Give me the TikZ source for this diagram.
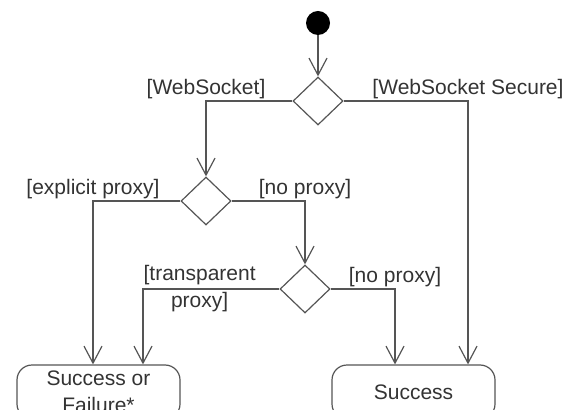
\documentclass[tikz,border=0pt]{standalone}
\usepackage{fontspec}
\setmainfont{Liberation Sans}
\usetikzlibrary{shapes.geometric,arrows.meta}

\definecolor{linegray}{HTML}{555555}
\definecolor{textgray}{HTML}{333333}

\begin{document}
\begin{tikzpicture}[
    x=0.5pt, y=-0.5pt,
    every node/.style = {
        text=textgray,
        font=\fontsize{10.5pt}{13.5pt}\selectfont
    },
    startdot/.style = {
        circle,
        fill=black,
        minimum size=12pt,
        inner sep=0pt
    },
    choice/.style = {
        diamond,
        draw=linegray,
        line width=0.6pt,
        fill=white,
        minimum width=25pt,
        minimum height=24pt,
        inner sep=0pt
    },
    endbox/.style = {
        rectangle,
        draw=linegray,
        line width=0.6pt,
        rounded corners=7.5pt,
        minimum width=81.5pt,
        minimum height=27pt,
        align=center,
        inner sep=2pt
    },
    guard/.style = {
        above,
        inner sep=1pt
    },
    flow/.style = {
        -{Straight Barb[length=8.5pt,width=9pt]},
        line width=0.6pt,
        draw=linegray
    }
]

\useasboundingbox (0,0) rectangle (581,410);
\clip (0,0) rectangle (581,410);

\node (start) [startdot] at (318,23) {};

\node (proto) [choice] at (318,101) {};
\node (proxy) [choice] at (206,201) {};
\node (transp) [choice] at (305,289) {};

\node (maybe) [endbox] at (98.5,392) {Success or\\Failure*};
\node (ok) [endbox] at (413.5,392) {Success};

\draw [flow] (start) -- (proto.north);
\draw [flow] (proto.west) -| node[guard, pos=0.5] {[WebSocket]} (proxy.north);
\draw [flow] (proto.east) -| node[guard, pos=0.5] {[WebSocket Secure]} ([xshift=27.25pt]ok.north);
\draw [flow] (proxy.west) -| node[guard, pos=0.5] {[explicit proxy]} ([xshift=-2.75pt]maybe.north);
\draw [flow] (proxy.east) -| node[guard, pos=0.5] {[no proxy]} (transp.north);
\draw [flow] (transp.west) -| node[pos=0.5, anchor=west, align=center, inner sep=0pt] {[transparent\\proxy]} ([xshift=22.25pt]maybe.north);
\draw [flow] (transp.east) -| node[guard, pos=0.5] {[no proxy]} ([xshift=-9.25pt]ok.north);

\end{tikzpicture}
\end{document}
